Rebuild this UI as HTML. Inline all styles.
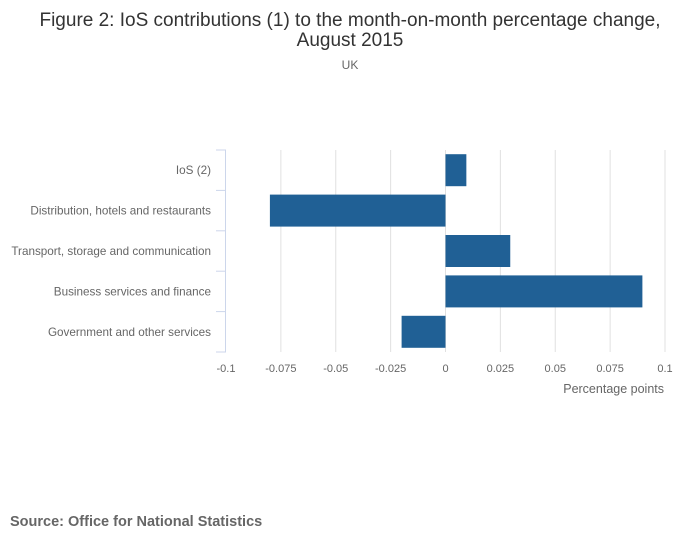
<!DOCTYPE html>
<html><head><meta charset="utf-8"><style>
body{margin:0;background:#fff;font-family:"Liberation Sans",sans-serif;}
svg text{font-family:"Liberation Sans",sans-serif;}
</style></head><body>
<svg width="700" height="549">
<text x="350" y="26" text-anchor="middle" font-size="19" fill="#333">Figure 2: IoS contributions (1) to the month-on-month percentage change,</text>
<text x="350" y="46" text-anchor="middle" font-size="19" fill="#333">August 2015</text>
<text x="350" y="69" text-anchor="middle" font-size="12" fill="#666">UK</text>
<g id="grid"></g><g id="bars"></g><g id="axes"></g>
<text x="664" y="393" text-anchor="end" font-size="12.5" fill="#666">Percentage points</text>
<text x="10" y="526" font-size="14.5" font-weight="bold" fill="#666">Source: Office for National Statistics</text>
</svg>
<script>
const categories=["IoS (2)","Distribution, hotels and restaurants","Transport, storage and communication","Business services and finance","Government and other services"];
const values=[0.0095,-0.08,0.0295,0.0897,-0.02];
const ticks=[-0.1,-0.075,-0.05,-0.025,0,0.025,0.05,0.075,0.1];
const tickLabels=["-0.1","-0.075","-0.05","-0.025","0","0.025","0.05","0.075","0.1"];
const NS="http://www.w3.org/2000/svg";
const x0=226,x1=665,y0=150,y1=352;
const xs=v=>x0+(v+0.1)/0.2*(x1-x0);
const band=(y1-y0)/categories.length;
function mk(t,a,p){const e=document.createElementNS(NS,t);for(const k in a)e.setAttribute(k,a[k]);p.appendChild(e);return e;}
const g=document.getElementById('grid'),b=document.getElementById('bars'),ax=document.getElementById('axes');
ticks.forEach((t,i)=>{
  if(i>0){const l=mk('line',{x1:xs(t),x2:xs(t),y1:y0,y2:y1,stroke:'#e0e0e0','stroke-width':1},g);
  
  }
  const tx=mk('text',{x:xs(t),y:372,'text-anchor':'middle','font-size':11,fill:'#666'},ax);
  tx.textContent=tickLabels[i];
  
  
});
const al=mk('line',{x1:x0-0.5,x2:x0-0.5,y1:y0,y2:y1,stroke:'#ccd6eb','stroke-width':1},ax);


for(let i=0;i<=categories.length;i++){
  const y=y0+i*band;
  const tk=mk('line',{x1:x0-10,x2:x0,y1:y,y2:y,stroke:'#ccd6eb','stroke-width':1},ax);
  
  
}
categories.forEach((c,i)=>{
  const yc=y0+(i+0.5)*band;
  const v=values[i];
  const r=mk('rect',{x:Math.min(xs(0),xs(v)),y:yc-16,width:Math.abs(xs(v)-xs(0)),height:32,fill:'#206095'},b);
  
  
  const t=mk('text',{x:211,y:yc+4,'text-anchor':'end','font-size':11.7,fill:'#666'},ax);
  t.textContent=c;
  
  
});
</script>
</body></html>
